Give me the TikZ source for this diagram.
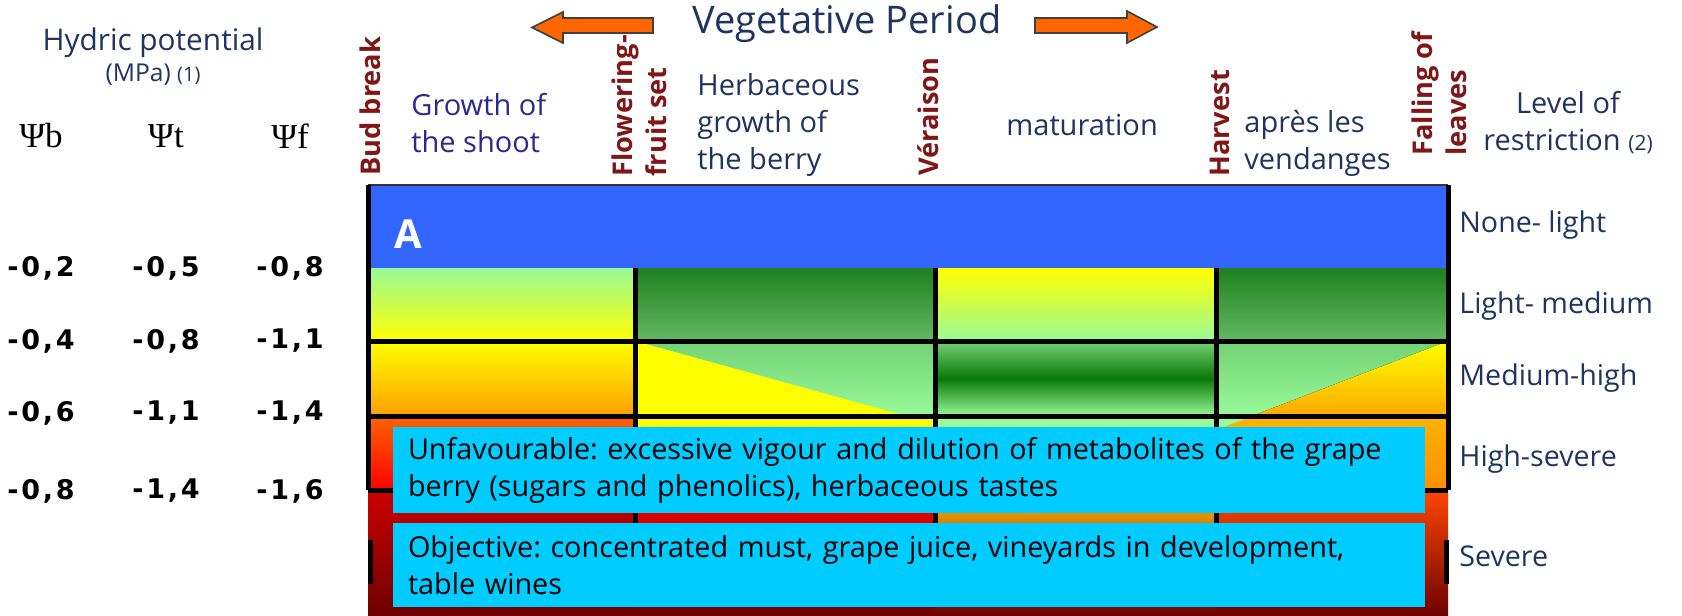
\documentclass[tikz,border=0pt]{standalone}
\usepackage{fontspec}
\setmainfont{Open Sans}
\newfontfamily\numfont[LetterSpace=10]{DejaVu Sans}
\newfontfamily\psifont{Liberation Serif}
\definecolor{labelnavy}{RGB}{31,52,95}
\definecolor{phaseindigo}{RGB}{46,40,140}
\definecolor{eventred}{RGB}{128,22,22}
\definecolor{bandblue}{RGB}{51,102,255}
\definecolor{boxcyan}{RGB}{0,204,255}
\definecolor{arroworange}{RGB}{255,102,0}
\definecolor{palegreen}{RGB}{153,250,153}
\definecolor{softgreen}{RGB}{115,210,115}
\definecolor{leafgreen}{RGB}{30,128,30}
\definecolor{midgreen}{RGB}{100,185,100}
\definecolor{deepgreen}{RGB}{10,120,10}
\definecolor{lemon}{RGB}{255,255,0}
\definecolor{amber}{RGB}{255,160,0}
\definecolor{flame}{RGB}{255,100,0}
\definecolor{scarlet}{RGB}{255,0,0}
\definecolor{wine}{RGB}{110,0,0}
\tikzset{
  gridline/.style={line width=2.5pt, black},
  phase/.style={text=labelnavy, anchor=west, align=left, inner sep=0pt,
    font=\fontsize{14.5}{18.5}\selectfont},
  event/.style={text=eventred, rotate=90, anchor=west, align=left, inner sep=0pt,
    font=\fontsize{13.6}{17}\selectfont\bfseries},
  level/.style={text=labelnavy, anchor=west, inner sep=0pt,
    font=\fontsize{14.3}{18}\selectfont},
  potval/.style={font=\numfont\fontsize{13.5}{15}\selectfont\bfseries, inner sep=0pt},
  psi/.style={font=\psifont\fontsize{17.5}{19}\selectfont, inner sep=0pt},
  infobox/.style={fill=boxcyan, minimum width=516pt, text width=501pt,
    inner xsep=7.5pt, align=left, font=\fontsize{14.4}{18.5}\selectfont\frenchspacing},
  bigarrow/.style={fill=arroworange, draw=black!75, line width=0.8pt, line join=miter},
}
\begin{document}
\begin{tikzpicture}[x=0.5pt,y=-0.5pt]
  \useasboundingbox (0,0) rectangle (1682,616);
  % title and arrows
  \filldraw[bigarrow] (653,18) -- (563,18) -- (563,12) -- (532,27.5)
    -- (563,43) -- (563,33) -- (653,33) -- cycle;
  \filldraw[bigarrow] (1035,18) -- (1127,18) -- (1127,11) -- (1157,27)
    -- (1127,43) -- (1127,33) -- (1035,33) -- cycle;
  \node[text=labelnavy, font=\fontsize{19}{22}\selectfont] (period) at (847,24) {Vegetative Period};
  % water potential header
  \node[text=labelnavy, font=\fontsize{14.9}{17}\selectfont] (hydric) at (153,43) {Hydric potential};
  \node[text=labelnavy, font=\fontsize{12.3}{14}\selectfont] (mpa) at (153,75) {(MPa) {\fontsize{10}{12}\selectfont(1)}};
  \node[psi] (psib) at (41,136) {Ψb};
  \node[psi] (psit) at (166,136) {Ψt};
  \node[psi] (psif) at (290,136) {Ψf};
  \node[potval] (b1) at (41,268) {-0,2};
  \node[potval] (t1) at (166,268) {-0,5};
  \node[potval] (f1) at (290,268) {-0,8};
  \node[potval] (b2) at (41,341) {-0,4};
  \node[potval] (t2) at (166,341) {-0,8};
  \node[potval] (f2) at (290,341) {-1,1};
  \node[potval] (b3) at (41,413) {-0,6};
  \node[potval] (t3) at (166,413) {-1,1};
  \node[potval] (f3) at (290,413) {-1,4};
  \node[potval] (b4) at (41,491) {-0,8};
  \node[potval] (t4) at (166,491) {-1,4};
  \node[potval] (f4) at (290,491) {-1,6};
  % stages of the vine
  \node[event] (budbreak) at (370,176) {Bud break};
  \node[event] (flowering) at (639,177) {Flowering-\\fruit set};
  \node[event] (veraison) at (928,176) {Véraison};
  \node[event] (harvest) at (1220,177) {Harvest};
  \node[event] (leaffall) at (1439,156) {Falling of\\leaves};
  \node[phase, text=phaseindigo] (shoot) at (411,123) {Growth of\\the shoot};
  \node[phase] (berry) at (697,125) {Herbaceous\\growth of\\the berry};
  \node[phase] (maturation) at (1006,125) {maturation};
  \node[phase] (afterharvest) at (1244,143) {après les\\vendanges};
  \node[phase, anchor=center, align=center] (restriction) at (1568,123)
    {Level of\\restriction {\fontsize{10.5}{12}\selectfont(2)}};
  % band A
  \fill[bandblue] (368,185) rectangle (1448,268);
  \draw[black!80, line width=1pt] (368,185) -- (1448,185);
  \node[text=white, font=\fontsize{20}{22}\selectfont\bfseries] (bandA) at (408,234) {A};
  % light-medium
  \fill[top color=palegreen, bottom color=lemon] (368,268) rectangle (635,341);
  \fill[top color=leafgreen, bottom color=midgreen] (635,268) rectangle (935,341);
  \fill[top color=lemon, bottom color=palegreen] (935,268) rectangle (1216,341);
  \fill[top color=leafgreen, bottom color=midgreen] (1216,268) rectangle (1448,341);
  % medium-high
  \fill[top color=lemon, bottom color=amber] (368,341) rectangle (635,416);
  \fill[top color=softgreen, bottom color=palegreen] (635,341) rectangle (935,416);
  \fill[lemon] (635,341) -- (906,416) -- (635,416) -- cycle;
  \fill[top color=softgreen, bottom color=palegreen, middle color=deepgreen] (935,341) rectangle (1216,416);
  \fill[top color=softgreen, bottom color=palegreen] (1216,341) rectangle (1448,416);
  \fill[top color=lemon, bottom color=amber!90!yellow] (1448,341) -- (1448,416) -- (1252,416) -- cycle;
  % high-severe
  \fill[top color=flame, bottom color=scarlet] (368,416) rectangle (635,490);
  \fill[lemon] (635,416) rectangle (935,490);
  \fill[palegreen] (935,416) rectangle (1216,490);
  \fill[top color=amber!80!yellow, bottom color=amber!70!flame] (1216,416) rectangle (1448,490);
  \fill[palegreen] (1216,416) -- (1252,416) -- (1216,430) -- cycle;
  % severe
  \fill[top color=scarlet!80!black, bottom color=wine] (368,490) rectangle (635,616);
  \fill[top color=scarlet, bottom color=wine] (635,490) rectangle (935,616);
  \fill[top color=amber!80!yellow, bottom color=wine] (935,490) rectangle (1216,616);
  \fill[top color=flame!70!scarlet, bottom color=wine] (1216,490) rectangle (1448,616);
  % grid
  \draw[gridline] (368,341) -- (1448,341);
  \draw[gridline] (368,416) -- (1448,416);
  \draw[gridline] (368,490) -- (1448,490);
  \draw[gridline] (635,268) -- (635,560);
  \draw[gridline] (935,268) -- (935,560);
  \draw[gridline] (1216,268) -- (1216,560);
  \draw[gridline] (368,185) -- (368,490);
  \draw[gridline] (1448,185) -- (1448,490);
  \draw[gridline, dash pattern=on 22 off 16] (370,540) -- (370,616);
  \draw[gridline, dash pattern=on 22 off 16] (1446,540) -- (1446,616);
  % comments on the zones
  \node[infobox, minimum height=43pt] (unfav) at (909,470)
    {Unfavourable: excessive vigour and dilution of metabolites of the grape\\berry (sugars and phenolics), herbaceous tastes};
  \node[infobox, minimum height=42pt] (objective) at (909,565)
    {Objective: concentrated must, grape juice, vineyards in development,\\table wines};
  % levels of restriction
  \node[level] (none) at (1459,225) {None- light};
  \node[level] (light) at (1459,306) {Light- medium};
  \node[level] (medium) at (1459,378) {Medium-high};
  \node[level] (high) at (1459,459) {High-severe};
  \node[level] (severe) at (1459,556) {Severe};
\end{tikzpicture}
\end{document}
